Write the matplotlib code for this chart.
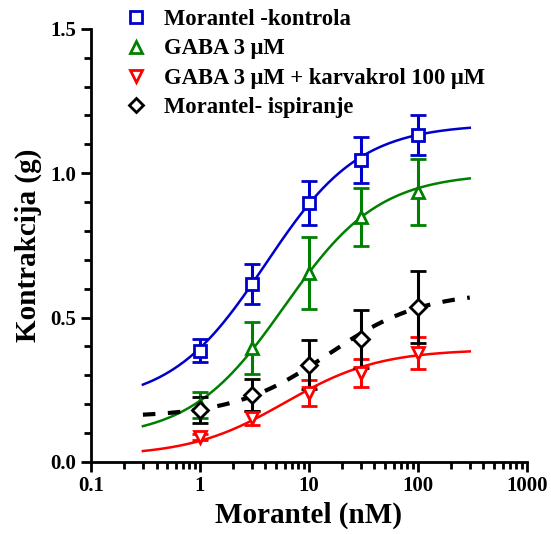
import numpy as np
import matplotlib
matplotlib.use("Agg")
import matplotlib.pyplot as plt
from matplotlib.lines import Line2D
from matplotlib.ticker import FixedLocator, LogLocator, NullFormatter

plt.rcParams['font.family'] = ['Liberation Serif', 'DejaVu Serif']
plt.rcParams['font.weight'] = 'bold'

# concentrations (nM)
conc = [1, 3, 10, 30, 100]

# mean contraction (g) and SEM per group
kontrola = [0.385, 0.617, 0.897, 1.046, 1.133]
kontrola_sem = [0.04, 0.07, 0.075, 0.08, 0.07]
gaba = [0.197, 0.395, 0.654, 0.849, 0.935]
gaba_sem = [0.045, 0.09, 0.125, 0.10, 0.115]
gaba_karv = [0.087, 0.152, 0.239, 0.308, 0.378]
gaba_karv_sem = [0.01, 0.025, 0.045, 0.05, 0.055]
ispiranje = [0.18, 0.232, 0.336, 0.426, 0.537]
ispiranje_sem = [0.045, 0.055, 0.085, 0.10, 0.125]

# fitted sigmoid parameters (bottom, top, EC50 nM)
fit_kontrola = (0.20, 1.17, 4.0)
fit_gaba = (0.08, 1.00, 6.0)
fit_gaba_karv = (0.02, 0.39, 6.0)
fit_ispiranje = (0.155, 0.59, 15.0)

labels = ['Morantel -kontrola', 'GABA 3 \u03bcM',
          'GABA 3 \u03bcM + karvakrol 100 \u03bcM', 'Morantel- ispiranje']

def sigmoid(x, p):
    b, t, ec50 = p
    return b + (t - b) / (1 + ec50 / x)

fig = plt.figure(figsize=(5.51, 5.34), dpi=100)
ax = fig.add_axes([0.165, 0.135, 0.791, 0.811])

xf = np.logspace(np.log10(0.3), np.log10(300), 200)

series = [
    (kontrola, kontrola_sem, fit_kontrola, '#0000CC', 's', '-'),
    (gaba, gaba_sem, fit_gaba, '#008000', '^', '-'),
    (gaba_karv, gaba_karv_sem, fit_gaba_karv, '#FF0000', 'v', '-'),
    (ispiranje, ispiranje_sem, fit_ispiranje, 'black', 'D', '--'),
]

handles = []
for (y, e, p, c, m, ls), lab in zip(series, labels):
    lw = 3 if ls == '--' else 1.8
    ax.plot(xf, sigmoid(xf, p), color=c, lw=lw, ls=ls,
            dashes=(3, 3) if ls == '--' else (None, None), zorder=2)
    ms = 8 if m == 'D' else 9
    ax.errorbar(conc, y, yerr=e, fmt=m, color=c, mfc='white', mec=c,
                mew=2, ms=ms, capsize=6, capthick=2.5, elinewidth=2.2, zorder=3)
    handles.append(Line2D([], [], ls='none', marker=m, color=c, mfc='white',
                          mec=c, mew=2, ms=7 if m == 'D' else 8, label=lab))

ax.set_xscale('log')
ax.set_xlim(0.1, 1000)
ax.set_ylim(0, 1.5)
ax.set_yticks([0.0, 0.5, 1.0, 1.5])
ax.set_yticklabels(['0.0', '0.5', '1.0', '1.5'])
ax.yaxis.set_minor_locator(FixedLocator(np.arange(0.1, 1.5, 0.1)))
ax.set_xticks([0.1, 1, 10, 100, 1000])
ax.set_xticklabels(['0.1', '1', '10', '100', '1000'])
ax.xaxis.set_minor_locator(LogLocator(base=10, subs=np.arange(2, 10)))
ax.xaxis.set_minor_formatter(NullFormatter())

for s in ['top', 'right']:
    ax.spines[s].set_visible(False)
for s in ['left', 'bottom']:
    ax.spines[s].set_linewidth(2)

ax.tick_params(which='major', length=7, width=2, labelsize=15, direction='out')
ax.tick_params(which='minor', length=5, width=2, direction='out')
for t in ax.get_xticklabels() + ax.get_yticklabels():
    t.set_fontweight('bold')

ax.set_xlabel('Morantel (nM)', fontsize=21, fontweight='bold', labelpad=4)
ax.set_ylabel('Kontrakcija (g)', fontsize=21, fontweight='bold', labelpad=6)

fig.legend(handles=handles, loc='upper left', bbox_to_anchor=(0.203, 1.008),
           frameon=False, handlelength=0.9, handletextpad=0.8,
           labelspacing=0.36, borderaxespad=0.2, prop={'weight': 'bold', 'size': 16.3})

fig.savefig('out.png', dpi=100)
